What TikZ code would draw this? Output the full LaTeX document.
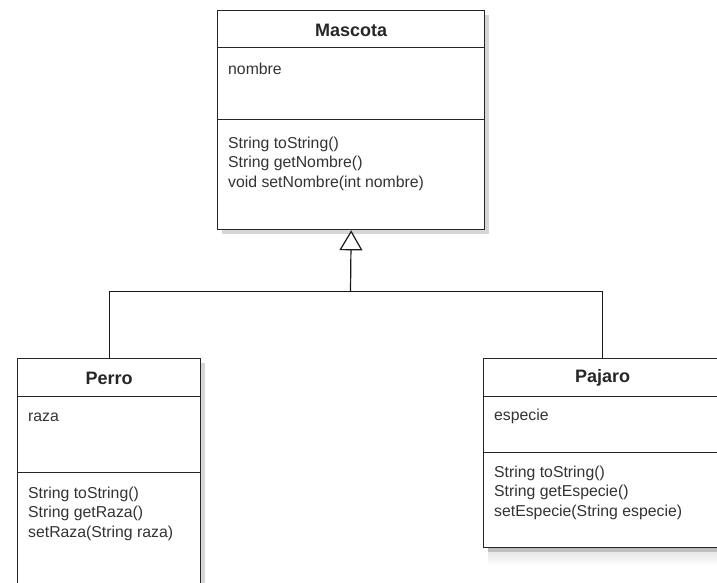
\documentclass[tikz,border=0pt]{standalone}
\usepackage{fontspec}
\setmainfont{Liberation Sans}
\usetikzlibrary{arrows.meta,shadows}
\begin{document}
\begin{tikzpicture}[x=1pt,y=-1pt,
  comp/.style={draw=black!85, line width=1.3pt, fill=white, inner sep=0pt, anchor=north west,
    drop shadow={shadow xshift=4pt, shadow yshift=-4pt, opacity=0.16, fill=black}},
  classtitle/.style={font=\fontsize{18}{20}\selectfont\bfseries, text=black!85, inner sep=0pt},
  txt/.style={font=\fontsize{15.8}{19}\selectfont, text=black!80, anchor=base west, inner sep=0pt},
  conn/.style={line width=1.2pt, draw=black!90}]
\useasboundingbox (0,0) rectangle (717,582);
\fill[white] (0,0) rectangle (717,582);
% faint shading bottom right
\shade[top color=black!12, bottom color=white] (488,548) rectangle (717,566);

% Mascota
\node[comp, minimum width=267pt, minimum height=37pt] (mh) at (217,10) {};
\node[comp, minimum width=267pt, minimum height=72pt] (ma) at (217,47) {};
\node[comp, minimum width=267pt, minimum height=110pt] (mm) at (217,119) {};
\node[classtitle] (mt) at ([yshift=-1pt]mh.center) {Mascota};
\node[txt] (ma1) at (228,74) {nombre};
\node[txt] (mm1) at (228,148) {String toString()};
\node[txt] (mm2) at (228,167.5) {String getNombre()};
\node[txt] (mm3) at (228,187) {void setNombre(int nombre)};

% Perro
\node[comp, minimum width=183pt, minimum height=38pt] (ph) at (17,358) {};
\node[comp, minimum width=183pt, minimum height=76pt] (pa) at (17,396) {};
\node[comp, minimum width=183pt, minimum height=140pt] (pm) at (17,472) {};
\node[classtitle, font=\fontsize{18}{20}\selectfont] (pt) at ([yshift=-0.5pt]ph.center) {\bfseries Perro};
\node[txt] (pa1) at (28,421) {raza};
\node[txt] (pm1) at (28,498) {String toString()};
\node[txt] (pm2) at (28,517.5) {String getRaza()};
\node[txt] (pm3) at (28,537) {setRaza(String raza)};

% Pajaro
\node[comp, minimum width=238pt, minimum height=38pt] (jh) at (483,358) {};
\node[comp, minimum width=238pt, minimum height=56pt] (ja) at (483,396) {};
\node[comp, minimum width=238pt, minimum height=95pt] (jm) at (483,452) {};
\node[classtitle] (jt) at ([yshift=-0.5pt]jh.center) {Pajaro};
\node[txt] (ja1) at (494,420.5) {especie};
\node[txt] (jm1) at (494,477) {String toString()};
\node[txt] (jm2) at (494,496.5) {String getEspecie()};
\node[txt] (jm3) at (494,516) {setEspecie(String especie)};

% inheritance
\coordinate (j) at (350.5,291.7);
\draw[conn] (ph.north) |- (j) -| (jh.north);
\draw[conn, -{Triangle[fill=white, length=20pt, width=23pt]}] (j) -- (mm.south);
\end{tikzpicture}
\end{document}
